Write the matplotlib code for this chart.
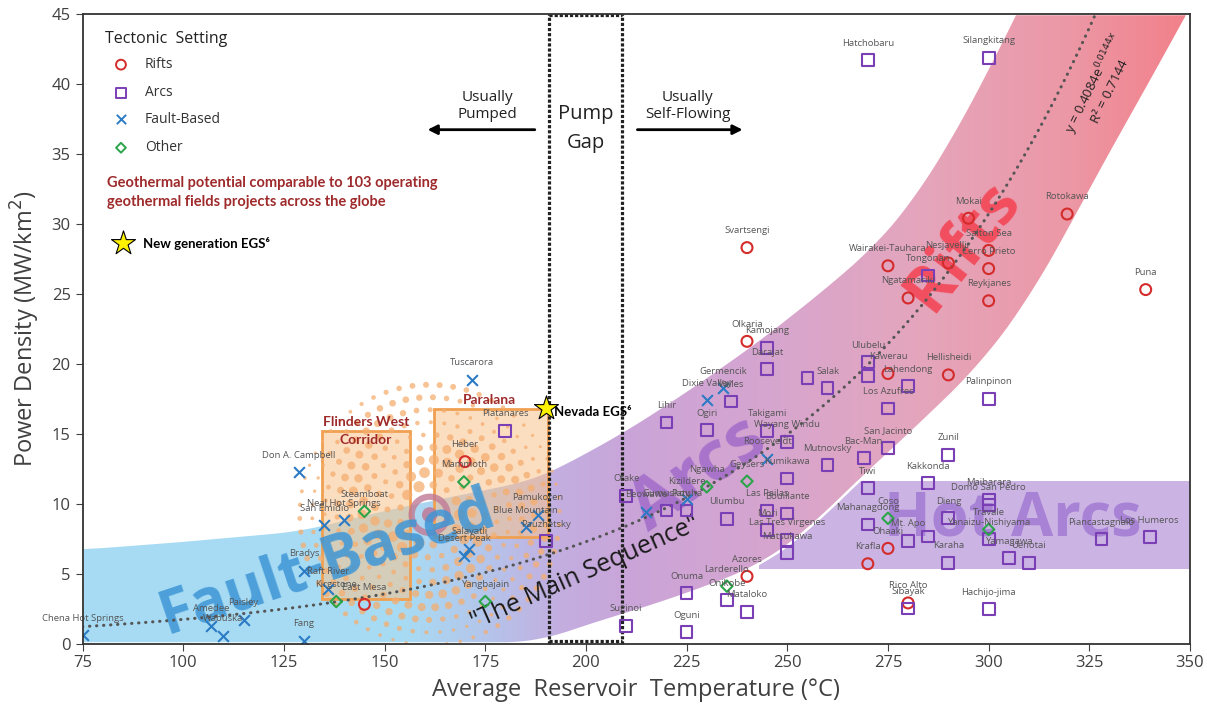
import numpy as np
import matplotlib
matplotlib.use('Agg')
import matplotlib.pyplot as plt
from matplotlib.patches import Polygon, Rectangle
from matplotlib.colors import LinearSegmentedColormap

plt.rcParams['font.family'] = ['Open Sans', 'DejaVu Sans']

# ---------------- data ----------------
rift_names = ['Svartsengi', 'Mokai', 'Rotokawa', 'Salton Sea', 'Cerro Prieto', 'Nesjavellir',
              'Wairakei-Tauhara', 'Ngatamariki', 'Reykjanes', 'Puna', 'Olkaria', 'Kawerau',
              'Hellisheidi', 'Heber', 'Azores', 'Krafla', 'Ohaaki', 'Rico Alto', 'East Mesa']
rift_T = [240, 295, 319.5, 300, 300, 290, 275, 280, 300, 339, 240, 275, 290, 170, 240, 270, 275, 280, 145]
rift_P = [28.3, 30.4, 30.7, 28.1, 26.8, 27.2, 27.0, 24.7, 24.5, 25.3, 21.6, 19.3, 19.2, 13.0, 4.8, 5.7, 6.8, 2.9, 2.8]

arc_names = ['Hatchobaru', 'Silangkitang', 'Tongonan', 'Kamojang', 'Darajat', '', 'Salak', 'Valles',
             'Lihir', 'Ogiri', 'Takigami', 'Wayang Windu', 'Kumikawa', 'Mutnovsky', 'Tiwi', 'Bac-Man',
             'San Jacinto', 'Ulubelu', '', 'Lahendong', 'Los Azufres', 'Palinpinon', 'Zunil', 'Kakkonda',
             'Maibarara', 'Domo San Pedro', 'Dieng', 'Yanaizu-Nishiyama', 'Yamagawa', 'Uenotai',
             'Piancastagnaio', 'Los Humeros', 'Mahanagdong', 'Mt. Apo', '', 'Karaha', 'Sibayak',
             'Hachijo-jima', 'Platanares', 'Pauzhetsky', 'Otake', 'Gumuskoy', 'Patuha', 'Ulumbu',
             'Las Pailas', 'Bouillante', 'Mori', 'Las Tres Virgenes', 'Matsukawa', 'Onikobe',
             'Mataloko', 'Onuma', 'Oguni', 'Suginoi']
arc_T = [270, 300, 285, 245, 245, 255, 260, 236, 220, 230, 245, 250, 250, 260, 270, 269, 275, 270, 270,
         280, 275, 300, 290, 285, 300, 300, 290, 300, 305, 310, 328, 340, 270, 280, 285, 290, 280, 300,
         180, 190, 210, 220, 225, 235, 245, 250, 245, 250, 250, 235, 240, 225, 225, 210]
arc_P = [41.7, 41.85, 26.3, 21.15, 19.6, 19.0, 18.25, 17.3, 15.8, 15.25, 15.2, 14.4, 11.8, 12.75, 11.1,
         13.25, 14.0, 20.1, 19.1, 18.4, 16.8, 17.5, 13.5, 11.45, 10.3, 9.9, 8.95, 7.45, 6.1, 5.75, 7.45,
         7.6, 8.5, 7.35, 7.65, 5.75, 2.5, 2.45, 15.2, 7.3, 10.55, 9.5, 9.5, 8.9, 9.5, 9.3, 8.1, 7.4, 6.45,
         3.1, 2.25, 3.6, 0.8, 1.25]

fault_names = ['Chena Hot Springs', 'Amedee', 'Wabuska', 'Paisley', 'Fang', 'Bradys', 'Raft River',
               'Don A. Campbell', 'San Emidio', 'Neal Hot Springs', 'Tuscarora', 'Salavatli',
               'Desert Peak', 'Pamukoren', 'Blue Mountain', 'Beowawe', 'Kizildere', 'Dixie Valley',
               'Germencik', 'Rooseveldt']
fault_T = [75.2, 107, 110, 115, 130, 130, 136, 128.8, 135, 140, 171.8, 171, 169.7, 188, 185, 215, 225,
           230, 234, 245]
fault_P = [0.6, 1.25, 0.55, 1.7, 0.2, 5.2, 3.9, 12.25, 8.45, 8.8, 18.85, 6.75, 6.25, 9.2, 8.3, 9.4,
           10.35, 17.4, 18.25, 13.2]

other_names = ['Steamboat', 'Kirgstone', 'Mammoth', 'Yangbajain', 'Ngawha', 'Geysers', 'Larderello',
               'Coso', 'Travale']
other_T = [145, 138, 169.7, 175, 230, 240, 235, 275, 300]
other_P = [9.45, 3.0, 11.55, 3.0, 11.2, 11.6, 4.1, 8.95, 8.15]

egs_names = ['Nevada EGS⁶']
egs_T = [190]
egs_P = [16.8]

# trend line y = a*exp(b*x)
trend_a, trend_b = 0.4084, 0.0144

# "main sequence" band edges
band_up_T = [75, 100, 129, 149, 162, 186, 193.5, 210, 226.6, 243, 259.7, 272, 281, 289.4, 298, 306.6]
band_up_P = [6.8, 7.35, 8.1, 9.5, 10.3, 11.7, 12.65, 15.27, 18.37, 21.7, 25.5, 28.6, 31.7, 35.5, 40.0, 45]
band_lo_T = [75, 188, 198.5, 210, 225, 243, 255, 265.4, 282, 298.5, 310, 317.5, 326, 338, 349.5]
band_lo_P = [0, 0, 1.1, 2.1, 3.5, 5.5, 8.0, 11.0, 15.4, 20.0, 24.5, 28.2, 32.9, 39.0, 45]

hot_arcs_T = (243, 350)
hot_arcs_P = (5.35, 11.6)
flinders_T = (134.5, 156.3)
flinders_P = (3.16, 15.22)
paralana_T = (162.2, 190.6)
paralana_P = (7.6, 16.77)
pump_gap_T = (190.8, 208.9)

xticks = [75, 100, 125, 150, 175, 200, 225, 250, 275, 300, 325, 350]
yticks = [0, 5, 10, 15, 20, 25, 30, 35, 40, 45]

# ---------------- figure ----------------
W, H = 1207, 706
fig = plt.figure(figsize=(W / 100, H / 100), dpi=100)
ax = fig.add_axes([82.5 / W, 1 - 643.5 / H, (1190 - 82.5) / W, (643.5 - 14) / H])

RIFT_C, ARC_C, FAULT_C, OTHER_C = '#d42b2b', '#7b3fb5', '#2b7bc4', '#2ca54a'
DARKRED = '#9e2a2b'


def smooth_edge(T, P, n=400, win=25):
    t = np.linspace(T[0], T[-1], n)
    p = np.interp(t, T, P)
    pad = win // 2
    pp = np.concatenate([np.full(pad, p[0]), p,
                         p[-1] + (p[-1] - p[-2:-pad - 2:-1])])
    k = np.ones(win) / win
    ps = np.convolve(pp, k, mode='valid')
    ps[0], ps[-1] = P[0], P[-1]
    return t, ps


# hot arcs rectangle
ax.add_patch(Rectangle((hot_arcs_T[0], hot_arcs_P[0]), hot_arcs_T[1] - hot_arcs_T[0],
                       hot_arcs_P[1] - hot_arcs_P[0], facecolor='#cbb3e4', edgecolor='none', zorder=0.8))

# gradient band
tu, pu = smooth_edge(band_up_T, band_up_P)
tl, pl = smooth_edge(band_lo_T, band_lo_P)
pl = np.maximum(pl, 0)
verts = np.vstack([np.column_stack([tu, pu]), np.column_stack([tl[::-1], pl[::-1]])])
cmap = LinearSegmentedColormap.from_list('band', [
    (0.0, '#a6dcf4'), (0.29, '#a8dbf3'), (0.36, '#b4c6eb'), (0.43, '#c3aee0'),
    (0.50, '#cba4d8'), (0.62, '#d6a5cf'), (0.75, '#e4a6bd'), (0.89, '#ec98a6'), (1.0, '#f2808a')])
grad = np.linspace(0, 1, 512).reshape(1, -1)
im = ax.imshow(grad, extent=[75, 350, 0, 45], aspect='auto', cmap=cmap, origin='lower', zorder=1)
poly = Polygon(verts, closed=True, facecolor='none', edgecolor='white', lw=1.8, zorder=1.1)
ax.add_patch(poly)
im.set_clip_path(poly)

# orange boxes
for (t0, t1), (p0, p1) in [(flinders_T, flinders_P), (paralana_T, paralana_P)]:
    ax.add_patch(Rectangle((t0, p0), t1 - t0, p1 - p0, facecolor='#f9c28c', alpha=0.55,
                           edgecolor='none', zorder=1.4))
    ax.add_patch(Rectangle((t0, p0), t1 - t0, p1 - p0, facecolor='none',
                           edgecolor='#f0a050', lw=2, zorder=1.45))

# decorative halftone dots around target logo
cT, cP = 161.2, 9.2
pxT, pxP = 4.03, 13.98
dT, dP, dS = [], [], []
for k, r in enumerate(np.arange(30, 132, 12.5)):
    n = int(2 * np.pi * r / 13.5)
    ang = np.linspace(0, 2 * np.pi, n, endpoint=False) + k * 0.37
    d = 11.5 - 5.5 * (r - 30) / 100
    for j, a in enumerate(ang):
        dd = d * (0.75 + 0.25 * np.cos(3 * a + k))
        dT.append(cT + r * np.cos(a) / pxT)
        dP.append(cP + r * np.sin(a) / pxP)
        dS.append((dd * 0.72) ** 2)
ax.scatter(dT, dP, s=dS, color='#f5ae70', alpha=0.75, edgecolors='none', zorder=1.5)
ax.scatter([cT], [cP], s=26 ** 2, facecolors='none', edgecolors='#c07a95', linewidths=4.5,
           alpha=0.8, zorder=1.6)
ax.scatter([cT], [cP], s=11 ** 2, color='#bf7896', alpha=0.85, edgecolors='none', zorder=1.6)

# big region labels
ax.text(135.8, 5.7, 'Fault-Based', fontsize=43, fontweight='bold', color='#3d95d6', alpha=0.85,
        rotation=18.5, ha='center', va='center', rotation_mode='anchor', zorder=2)
ax.text(228.0, 12.0, 'Arcs', fontsize=50, fontweight='bold', color='#9b63c8', alpha=0.75,
        rotation=35, ha='center', va='center', rotation_mode='anchor', zorder=2)
ax.text(293.6, 28.4, 'Rifts', fontsize=46, fontweight='bold', color='#f4404f', alpha=0.85,
        rotation=52, ha='center', va='center', rotation_mode='anchor', zorder=2)
ax.text(306, 8.8, 'Hot Arcs', fontsize=44, fontweight='bold', color='#9b6fd0', alpha=0.72,
        ha='center', va='center', zorder=2)
ax.text(199.8, 5.0, '"The Main Sequence"', fontsize=18, color='#1a1a1a',
        rotation=24, ha='center', va='center', rotation_mode='anchor', zorder=2)

# trend line
tt = np.linspace(75, np.log(45 / trend_a) / trend_b, 300)
ax.plot(tt, trend_a * np.exp(trend_b * tt), color='#555555', lw=2.2,
        ls=(0, (0.1, 2.2)), dash_capstyle='round', zorder=2.5)
ax.text(327.8, 39.8, 'y = 0.4084e$^{0.0144x}$\nR² = 0.7144', fontsize=9.5, color='#222222',
        rotation=64, ha='center', va='center', rotation_mode='anchor', linespacing=1.1, zorder=2.5)

# pump gap dotted rectangle
for t in pump_gap_T:
    ax.plot([t, t], [0, 45], color='#222222', lw=2.3, ls=(0, (1, 0.6)), zorder=2.6, clip_on=False)
for p in (0.15, 44.9):
    ax.plot(list(pump_gap_T), [p, p], color='#222222', lw=2.3, ls=(0, (1, 0.6)), zorder=2.6)


# points
def plot_group(T, P, names, marker, color, size, lw):
    if marker == 'x':
        ax.scatter(T, P, marker='x', s=size, color=color, linewidths=lw, zorder=3)
    else:
        ax.scatter(T, P, marker=marker, s=size, facecolors='none', edgecolors=color,
                   linewidths=lw, zorder=3)
    for n, t, p in zip(names, T, P):
        if n:
            ax.annotate(n, (t, p), xytext=(0, 12.3), textcoords='offset points', ha='center',
                        va='center', fontsize=6.8, color='#555555', zorder=3.2)


plot_group(rift_T, rift_P, rift_names, 'o', RIFT_C, 62, 1.5)
plot_group(arc_T, arc_P, arc_names, 's', ARC_C, 72, 1.5)
plot_group(fault_T, fault_P, fault_names, 'x', FAULT_C, 60, 1.5)
plot_group(other_T, other_P, other_names, 'D', OTHER_C, 34, 1.5)

ax.scatter(egs_T, egs_P, marker='*', s=330, color='#fff200', edgecolors='black', linewidths=0.8, zorder=3.5)
ax.text(egs_T[0] + 2, egs_P[0] - 0.25, egs_names[0], fontsize=9.5, fontweight='bold', color='black',
        ha='left', va='center', family=['Lato', 'DejaVu Sans'], zorder=3.5)

# annotation texts and arrows
ax.text(175.6, 38.45, 'Usually\nPumped', fontsize=11, ha='center', va='center', color='#222222',
        linespacing=1.2)
ax.annotate('', xy=(160, 36.73), xytext=(188, 36.73),
            arrowprops=dict(arrowstyle='-|>', lw=2, color='black', mutation_scale=14))
ax.text(200, 36.8, 'Pump\nGap', fontsize=14.5, ha='center', va='center', color='#222222',
        linespacing=1.6)
ax.text(225.3, 38.45, 'Usually\nSelf-Flowing', fontsize=11, ha='center', va='center', color='#222222',
        linespacing=1.2)
ax.annotate('', xy=(239.6, 36.73), xytext=(212.1, 36.73),
            arrowprops=dict(arrowstyle='-|>', lw=2, color='black', mutation_scale=14))

ax.text(145.4, 15.84, 'Flinders West', fontsize=10, fontweight='bold', color=DARKRED,
        ha='center', va='center', family=['Lato', 'DejaVu Sans'], zorder=3)
ax.text(145.4, 14.56, 'Corridor', fontsize=10, fontweight='bold', color=DARKRED,
        ha='center', va='center', family=['Lato', 'DejaVu Sans'], zorder=3)
ax.text(176.1, 17.42, 'Paralana', fontsize=10, fontweight='bold', color=DARKRED,
        ha='center', va='center', family=['Lato', 'DejaVu Sans'], zorder=3)

# legend (manual)
ax.text(80.6, 43.2, 'Tectonic  Setting', fontsize=11.5, ha='left', va='center', color='#222222')
leg_items = [('Rifts', 'o', RIFT_C, 50), ('Arcs', 's', ARC_C, 55),
             ('Fault-Based', 'x', FAULT_C, 45), ('Other', 'D', OTHER_C, 25)]
for (lab, m, c, s), yy in zip(leg_items, [41.38, 39.37, 37.46, 35.44]):
    if m == 'x':
        ax.scatter([84.55], [yy], marker=m, s=s, color=c, linewidths=1.4, zorder=3)
    else:
        ax.scatter([84.55], [yy], marker=m, s=s, facecolors='none', edgecolors=c, linewidths=1.4, zorder=3)
    ax.text(90.5, yy, lab, fontsize=10, ha='left', va='center', color='#333333')

ax.text(81.1, 32.94, 'Geothermal potential comparable to 103 operating', fontsize=10.5,
        fontweight='bold', color=DARKRED, ha='left', va='center', family=['Lato', 'DejaVu Sans'])
ax.text(81.1, 31.58, 'geothermal fields projects across the globe', fontsize=10.5,
        fontweight='bold', color=DARKRED, ha='left', va='center', family=['Lato', 'DejaVu Sans'])
ax.scatter([85.05], [28.64], marker='*', s=330, color='#fff200', edgecolors='black', linewidths=0.8, zorder=3)
ax.text(90.0, 28.6, 'New generation EGS⁶', fontsize=9.5, fontweight='bold', color='black',
        ha='left', va='center', family=['Lato', 'DejaVu Sans'])

# axes
ax.set_xlim(75, 350)
ax.set_ylim(0, 45)
ax.set_xticks(xticks)
ax.set_yticks(yticks)
ax.tick_params(labelsize=12, colors='#404040', length=5, direction='out')
for sp in ax.spines.values():
    sp.set_color('#333333')
    sp.set_linewidth(1.3)
    sp.set_zorder(5)
ax.set_xlabel('Average  Reservoir  Temperature (°C)', fontsize=17, color='#404040', labelpad=5)
ax.set_ylabel('Power Density (MW/km$^2$)', fontsize=17, color='#404040', labelpad=7)

fig.savefig('out.png', dpi=100, facecolor='white')
